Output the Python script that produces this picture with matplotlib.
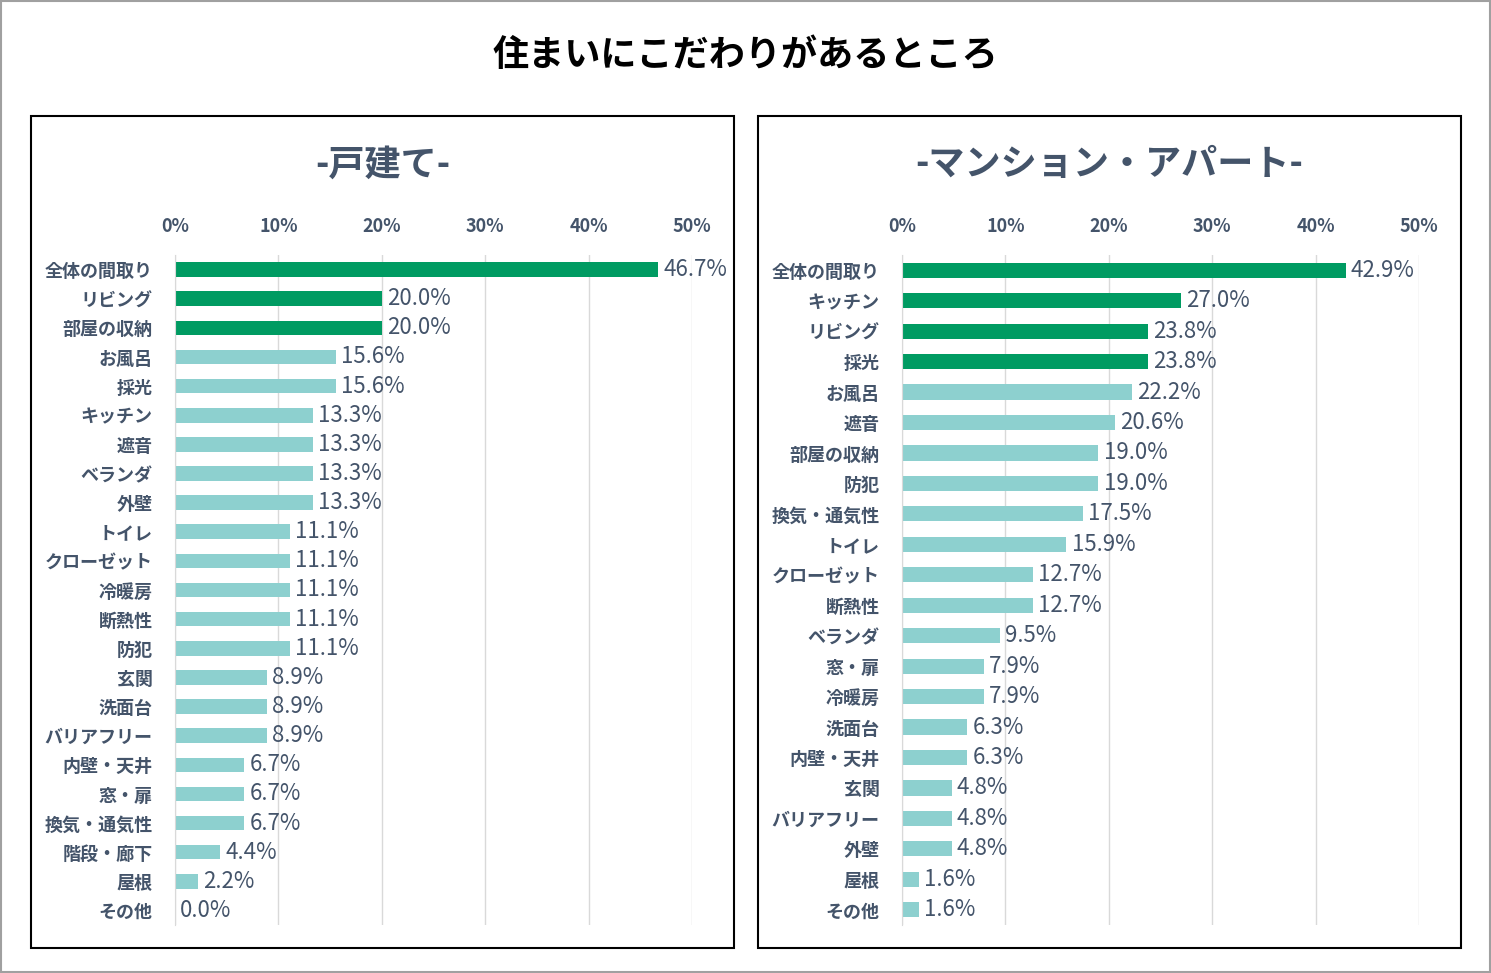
import matplotlib.pyplot as plt
from matplotlib.patches import Rectangle
from matplotlib.ticker import PercentFormatter

plt.rcParams['font.family'] = ['Noto Sans CJK JP', 'DejaVu Sans']

house_labels = ['全体の間取り', 'リビング', '部屋の収納', 'お風呂', '採光', 'キッチン', '遮音', 'ベランダ',
                '外壁', 'トイレ', 'クローゼット', '冷暖房', '断熱性', '防犯', '玄関', '洗面台', 'バリアフリー',
                '内壁・天井', '窓・扉', '換気・通気性', '階段・廊下', '屋根', 'その他']
house_values = [46.7, 20.0, 20.0, 15.6, 15.6, 13.3, 13.3, 13.3, 13.3, 11.1, 11.1, 11.1, 11.1, 11.1,
                8.9, 8.9, 8.9, 6.7, 6.7, 6.7, 4.4, 2.2, 0.0]
mansion_labels = ['全体の間取り', 'キッチン', 'リビング', '採光', 'お風呂', '遮音', '部屋の収納', '防犯',
                  '換気・通気性', 'トイレ', 'クローゼット', '断熱性', 'ベランダ', '窓・扉', '冷暖房', '洗面台',
                  '内壁・天井', '玄関', 'バリアフリー', '外壁', '屋根', 'その他']
mansion_values = [42.9, 27.0, 23.8, 23.8, 22.2, 20.6, 19.0, 19.0, 17.5, 15.9, 12.7, 12.7, 9.5, 7.9,
                  7.9, 6.3, 6.3, 4.8, 4.8, 4.8, 1.6, 1.6]

TXT = '#44546A'
GREEN = '#009B62'
TEAL = '#8DD0CF'

fig = plt.figure(figsize=(14.91, 9.73), dpi=100)
fig.patches.append(Rectangle((0.001, 0.001), 0.998, 0.998, transform=fig.transFigure,
                             fill=False, edgecolor='#A0A0A0', lw=1.5))
fig.text(0.5, 0.943, '住まいにこだわりがあるところ', ha='center', va='center',
         fontsize=26, fontweight='bold', color='black')


def panel(x0, x1, ax_left, title, labels, values, n_green):
    fig.patches.append(Rectangle((x0 / 1491, 1 - 948 / 973), (x1 - x0) / 1491, (948 - 116) / 973,
                                 transform=fig.transFigure, fill=False, edgecolor='black', lw=1.5))
    fig.text((x0 + x1) / 2 / 1491, 1 - 165 / 973, title, ha='center', va='center',
             fontsize=26, fontweight='bold', color=TXT)
    ax = fig.add_axes([ax_left / 1491, 1 - 925 / 973, 517 / 1491, 670 / 973])
    n = len(values)
    colors = [GREEN if i < n_green else TEAL for i in range(n)]
    ax.barh(range(n), values, height=0.5, color=colors)
    for i, v in enumerate(values):
        ax.text(v + 0.5, i, f'{v:.1f}%', va='center', ha='left', fontsize=16, color=TXT)
    ax.set_ylim(n - 0.5, -0.5)
    ax.set_xlim(0, 50)
    ax.set_xticks(range(0, 51, 10))
    ax.xaxis.set_major_formatter(PercentFormatter(decimals=0))
    ax.xaxis.tick_top()
    ax.set_yticks(range(n))
    ax.set_yticklabels(labels)
    ax.tick_params(axis='x', length=0, labelsize=13, labelcolor=TXT, pad=14)
    ax.tick_params(axis='y', length=0, labelsize=13, labelcolor=TXT, pad=16)
    for lab in ax.get_xticklabels() + ax.get_yticklabels():
        lab.set_fontweight('bold')
    ax.grid(axis='x', color='#D9D9D9', lw=1)
    ax.set_axisbelow(True)
    for s in ['top', 'right', 'bottom']:
        ax.spines[s].set_visible(False)
    ax.spines['left'].set_color('#D9D9D9')


panel(31, 734, 175, '-戸建て-', house_labels, house_values, 3)
panel(758, 1461, 902, '-マンション・アパート-', mansion_labels, mansion_values, 4)

fig.savefig('out.png', dpi=100)
